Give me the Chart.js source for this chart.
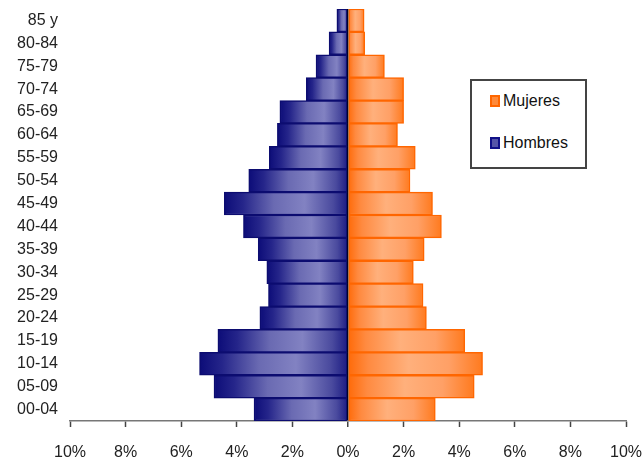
<!DOCTYPE html>
<html>
<head>
<meta charset="utf-8">
<script src="https://cdn.jsdelivr.net/npm/chart.js@4/dist/chart.umd.min.js"></script>
<style>
  body { margin: 0; background: #fff; }
  #wrap { position: relative; width: 642px; height: 462px; }
  #legend {
    position: absolute; left: 470px; top: 79px; width: 117px; height: 90px;
    border: 2px solid #444; box-sizing: border-box; background: #fff;
    font: 16px "Liberation Sans", Arial, sans-serif; color: #111;
  }
  #legend div { position: absolute; left: 18px; height: 18px; line-height: 18px; }
  #legend span.sw {
    display: inline-block; width: 10px; height: 12px; margin-right: 3px;
    vertical-align: -1px; box-sizing: border-box;
  }
</style>
</head>
<body>
<div id="wrap">
  <canvas id="canvas_0" width="642" height="462"></canvas>
  <div id="legend">
    <div style="top:11px"><span class="sw" style="background:#ff8a3a;border:2px solid #ff6600"></span>Mujeres</div>
    <div style="top:53px"><span class="sw" style="background:#5555a8;border:2px solid #111188"></span>Hombres</div>
  </div>
</div>
<script>
'use strict';
const ages = ['85 y','80-84','75-79','70-74','65-69','60-64','55-59','50-54','45-49',
  '40-44','35-39','30-34','25-29','20-24','15-19','10-14','05-09','00-04'];
const hombres = [0.4,0.68,1.15,1.5,2.45,2.54,2.83,3.57,4.45,
  3.76,3.23,2.92,2.86,3.17,4.68,5.34,4.82,3.38];
const mujeres = [0.58,0.6,1.31,2.0,2.0,1.78,2.42,2.23,3.04,
  3.36,2.74,2.35,2.7,2.82,4.2,4.84,4.54,3.14];
const xTicks = [-10,-8,-6,-4,-2,0,2,4,6,8,10];

const shade = (stops) => (c) => {
  const xs = c.chart.scales.x;
  if (!xs || c.type !== 'data') return stops[0][1];
  const x0 = xs.getPixelForValue(0), x1 = xs.getPixelForValue(c.raw);
  if (!isFinite(x0) || !isFinite(x1) || x0 === x1) return stops[0][1];
  const g = c.chart.ctx.createLinearGradient(x0, 0, x1, 0);
  stops.forEach(s => g.addColorStop(s[0], s[1]));
  return g;
};

const fmt = v => Math.abs(v) + '%';
const font = { family: '"Liberation Sans", Arial, sans-serif', size: 16 };

new Chart(document.getElementById('canvas_0').getContext('2d'), {
  type: 'bar',
  data: {
    labels: ages,
    datasets: [{
      label: 'Hombres',
      data: hombres.map(v => -v),
      backgroundColor: shade([[0,'#1a1a82'],[0.12,'#4a4a9e'],[0.35,'#8282c2'],[0.6,'#6a6ab2'],[0.85,'#25258a'],[1,'#0c0c78']]),
      borderColor: '#0c0c70',
      borderWidth: 1.5,
      borderSkipped: false
    }, {
      label: 'Mujeres',
      data: mujeres,
      backgroundColor: shade([[0,'#ff6a08'],[0.15,'#ff8a40'],[0.45,'#ffb07c'],[0.75,'#ffa066'],[1,'#ff7a1e']]),
      borderColor: '#ff6600',
      borderWidth: 1.5,
      borderSkipped: false
    }]
  },
  options: {
    indexAxis: 'y',
    responsive: false,
    animation: false,
    layout: { padding: { top: 9, left: 0, right: 16, bottom: 0 } },
    plugins: { legend: { display: false }, tooltip: { enabled: false } },
    datasets: { bar: { barPercentage: 1, categoryPercentage: 1 } },
    scales: {
      x: {
        min: -10, max: 10, stacked: true,
        afterBuildTicks: s => { s.ticks = xTicks.map(v => ({ value: v })); },
        afterFit: s => { s.height = 41; s.paddingLeft = 0; s.paddingRight = 0; },
        ticks: { callback: fmt, color: '#222', font: font, padding: 16, maxRotation: 0, autoSkip: false },
        grid: {
          color: c => (c.tick && c.tick.value === 0) ? '#000' : 'rgba(0,0,0,0)',
          lineWidth: c => (c.tick && c.tick.value === 0) ? 1.5 : 1,
          tickColor: '#444', tickWidth: 1.5, tickLength: 6
        },
        border: { color: '#777', width: 1.5 }
      },
      y: {
        stacked: true,
        afterFit: s => { s.width = 70; s.paddingTop = 0; s.paddingBottom = 0; },
        ticks: { color: '#222', font: font, padding: 12, autoSkip: false },
        grid: { display: false, drawTicks: false },
        border: { display: false }
      }
    }
  }
});
</script>
</body>
</html>
